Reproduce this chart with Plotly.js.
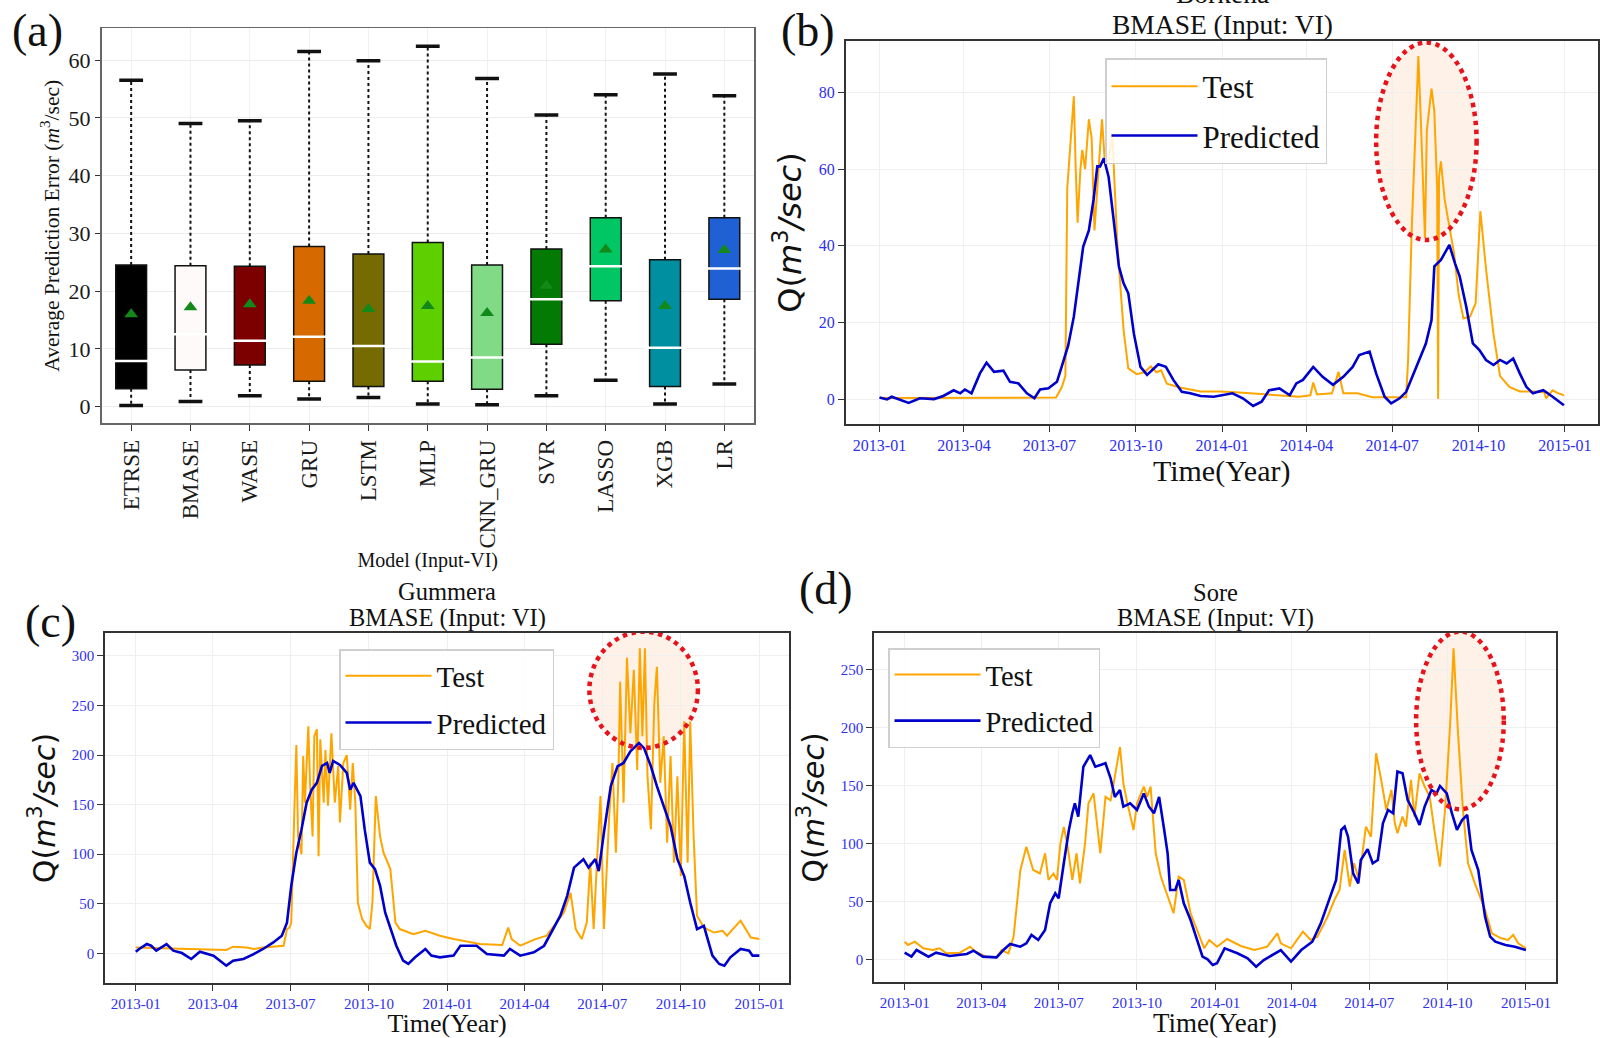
<!DOCTYPE html>
<html>
<head>
<meta charset="utf-8">
<script src="https://cdn.plot.ly/plotly-3.0.1.min.js"></script>
<style>html,body{margin:0;padding:0;background:#fff}#chart{width:1600px;height:1038px}</style>
</head>
<body>
<div id="chart"></div>
<script>
// ---------- Panel (a): box-plot statistics ----------
const models = ['ETRSE','BMASE','WASE','GRU','LSTM','MLP','CNN_GRU','SVR','LASSO','XGB','LR'];
const boxColors = ['#000000','#fffafa','#7d0000','#d66a00','#766b00','#5ecf00','#80da86','#037a03','#00c763','#008fa0','#2060d5'];
const upperWhisker = [56.5,49.0,49.5,61.5,59.9,62.4,56.8,50.5,54.0,57.6,53.8];
const q3Vals       = [24.5,24.4,24.3,27.7,26.4,28.4,24.5,27.3,32.7,25.4,32.7];
const medianVals   = [7.9,12.5,11.4,12.1,10.5,7.8,8.5,18.6,24.3,10.2,23.9];
const q1Vals       = [3.1,6.35,7.2,4.4,3.46,4.4,3.0,10.8,18.3,3.46,18.6];
const lowerWhisker = [0.2,0.87,1.85,1.3,1.56,0.46,0.3,1.85,4.56,0.46,3.9];
const meanVals     = [16.0,17.2,17.7,18.3,16.9,17.4,16.2,20.9,27.2,17.4,27.1];

// ---------- Panel (b): Borkena ----------
const bTestDates = ['2013-01-01','2013-03-01','2013-05-01','2013-07-08','2013-07-14','2013-07-18','2013-07-20','2013-07-23','2013-07-27','2013-07-29','2013-07-31','2013-08-03','2013-08-05','2013-08-08','2013-08-12','2013-08-15','2013-08-18','2013-08-21','2013-08-26','2013-08-29','2013-09-02','2013-09-06','2013-09-08','2013-09-11','2013-09-15','2013-09-18','2013-09-23','2013-10-02','2013-10-10','2013-10-17','2013-10-23','2013-10-28','2013-11-03','2013-11-17','2013-12-09','2013-12-30','2014-01-15','2014-02-20','2014-03-24','2014-04-05','2014-04-08','2014-04-12','2014-04-28','2014-05-05','2014-05-10','2014-05-25','2014-06-10','2014-07-16','2014-07-18','2014-07-22','2014-07-29','2014-08-01','2014-08-05','2014-08-07','2014-08-12','2014-08-15','2014-08-18','2014-08-19','2014-08-20','2014-08-22','2014-08-26','2014-08-31','2014-09-05','2014-09-10','2014-09-15','2014-09-22','2014-09-28','2014-10-03','2014-10-09','2014-10-17','2014-10-24','2014-11-03','2014-11-14','2014-11-28','2014-12-10','2014-12-12','2014-12-19','2014-12-24','2014-12-31'];
const bTest = [0.3,0.3,0.4,0.4,3,6,55,65,79,60,46,60,65,60,73,68,44,55,73,62,62,69,58,42,28,18,8,6.5,7,8.5,7,7.5,4,3,2,2,1.8,1.2,0.6,1,4.3,1.2,1.5,7.1,1.5,1.5,0.5,0.5,10,45,89.5,70,42,70,81,75,55,0,58,62,52,45,38,27,21,21.5,25,49,34,17,6,3.2,2,2,1.8,0.2,2.3,1.6,1];
const bPredDates = ['2013-01-01','2013-01-09','2013-01-14','2013-01-19','2013-02-01','2013-02-13','2013-02-28','2013-03-10','2013-03-21','2013-03-28','2013-04-02','2013-04-09','2013-04-18','2013-04-25','2013-05-03','2013-05-13','2013-05-20','2013-05-29','2013-06-07','2013-06-15','2013-06-21','2013-06-30','2013-07-09','2013-07-14','2013-07-21','2013-07-27','2013-08-01','2013-08-06','2013-08-12','2013-08-17','2013-08-21','2013-08-24','2013-08-28','2013-09-02','2013-09-07','2013-09-13','2013-09-18','2013-09-23','2013-09-29','2013-10-06','2013-10-13','2013-10-20','2013-10-25','2013-11-02','2013-11-10','2013-11-19','2013-11-28','2013-12-09','2013-12-23','2014-01-12','2014-01-23','2014-02-03','2014-02-12','2014-02-20','2014-03-03','2014-03-14','2014-03-21','2014-03-28','2014-04-08','2014-04-18','2014-04-29','2014-05-10','2014-05-20','2014-05-27','2014-06-07','2014-06-14','2014-06-23','2014-06-30','2014-07-09','2014-07-16','2014-07-27','2014-08-06','2014-08-12','2014-08-15','2014-08-22','2014-08-28','2014-08-31','2014-09-06','2014-09-11','2014-09-18','2014-09-25','2014-10-02','2014-10-09','2014-10-17','2014-10-24','2014-10-31','2014-11-07','2014-11-14','2014-11-21','2014-11-28','2014-12-09','2014-12-19','2014-12-31'];
const bPred = [0.4,-0.1,0.6,0.2,-1,0.2,0,0.8,2.3,1.5,2.5,1.5,6.7,9.5,7.1,7.4,4.5,4.1,1.5,0.2,2.5,2.8,4.5,8.4,14,21.5,30.2,39.8,44,52,60.7,60.7,62.8,58,47.6,34.6,30.2,27.6,17,8.4,6.3,8,9.1,8.4,5,1.9,1.5,0.8,0.6,1.5,0.2,-1.8,-0.7,2.3,2.8,1.0,4.1,5,8.4,5.8,3.7,5.8,8.4,11.5,12.4,6.7,0.6,-1.1,0.2,1.9,8.4,14.5,20.6,34.6,36.3,38.9,40.2,35.4,32,24.1,14.5,12.8,10.2,8.9,10.2,9.3,10.6,6.7,3.2,1.5,2.3,0.6,-1.6];

// ---------- Panel (c): Gummera ----------
const cTestDates = ['2013-01-01','2013-03-17','2013-04-17','2013-04-25','2013-05-11','2013-05-19','2013-05-30','2013-06-23','2013-06-27','2013-06-30','2013-07-02','2013-07-06','2013-07-08','2013-07-10','2013-07-14','2013-07-16','2013-07-18','2013-07-22','2013-07-24','2013-07-27','2013-07-29','2013-08-01','2013-08-03','2013-08-05','2013-08-09','2013-08-11','2013-08-14','2013-08-18','2013-08-22','2013-08-26','2013-08-28','2013-09-01','2013-09-05','2013-09-09','2013-09-12','2013-09-15','2013-09-18','2013-09-23','2013-09-28','2013-10-02','2013-10-05','2013-10-09','2013-10-14','2013-10-18','2013-10-26','2013-11-01','2013-11-06','2013-11-22','2013-12-06','2013-12-23','2014-01-08','2014-02-08','2014-03-06','2014-03-13','2014-03-17','2014-03-27','2014-04-14','2014-04-27','2014-05-09','2014-05-17','2014-05-25','2014-05-31','2014-06-07','2014-06-13','2014-06-17','2014-06-21','2014-06-25','2014-06-29','2014-07-03','2014-07-09','2014-07-13','2014-07-17','2014-07-20','2014-07-22','2014-07-26','2014-07-30','2014-08-03','2014-08-07','2014-08-11','2014-08-14','2014-08-17','2014-08-20','2014-08-23','2014-08-27','2014-08-31','2014-09-03','2014-09-07','2014-09-11','2014-09-15','2014-09-19','2014-09-23','2014-09-27','2014-10-01','2014-10-05','2014-10-09','2014-10-12','2014-10-16','2014-10-20','2014-10-28','2014-11-09','2014-11-19','2014-11-24','2014-12-10','2014-12-16','2014-12-22','2015-01-01'];
const cTest = [6,4.4,3.4,6.7,6,4.4,6,7.7,24.5,26,31,155,210,118,100,199,152,229,172,118,219,226,98,216,152,205,149,222,152,189,132,192,200,145,192,152,51,34.5,27.8,24.5,51,158.6,118,101.6,85,31,24.5,19.4,22.8,17.8,14.4,9.4,8.4,26,14.4,7.7,14.4,17.8,31,41,61,24.5,14.4,31,91.5,24.5,95,158.6,24.5,135,192,101.6,178.7,274,152,298,222,286,185,307.7,219,307.7,178.7,125,252,289,172,219,111.6,199,91.5,178.7,78,234,91.5,234,118,38,26,21,22.8,17.8,33,24.5,16,14.4];
const cPredDates = ['2013-01-01','2013-01-05','2013-01-14','2013-01-19','2013-01-25','2013-02-06','2013-02-14','2013-02-24','2013-03-07','2013-03-17','2013-04-02','2013-04-17','2013-04-25','2013-05-07','2013-05-19','2013-05-30','2013-06-11','2013-06-21','2013-06-27','2013-07-02','2013-07-08','2013-07-14','2013-07-20','2013-07-26','2013-08-01','2013-08-07','2013-08-13','2013-08-16','2013-08-20','2013-08-28','2013-09-05','2013-09-09','2013-09-13','2013-09-21','2013-09-26','2013-10-02','2013-10-08','2013-10-14','2013-10-20','2013-10-26','2013-11-02','2013-11-10','2013-11-16','2013-11-24','2013-12-06','2013-12-13','2013-12-23','2014-01-08','2014-01-16','2014-02-04','2014-02-16','2014-03-08','2014-03-15','2014-03-27','2014-04-12','2014-04-24','2014-05-03','2014-05-13','2014-05-21','2014-05-29','2014-06-09','2014-06-15','2014-06-23','2014-06-27','2014-07-03','2014-07-11','2014-07-19','2014-07-26','2014-08-03','2014-08-13','2014-08-19','2014-08-27','2014-09-03','2014-09-11','2014-09-19','2014-09-27','2014-10-05','2014-10-12','2014-10-20','2014-10-28','2014-11-07','2014-11-15','2014-11-21','2014-11-28','2014-12-10','2014-12-20','2014-12-24','2015-01-01'];
const cPred = [1.7,4.4,9.4,7.7,2.7,9.4,2.7,0.3,-5.7,1.7,-2.3,-12.4,-7.4,-5.7,-0.7,4.4,11,17.8,31,68,101.6,125,152,165,172,189,192,182,194,190,182,165,172,158.6,125,91.5,85,68,41,24.5,7.7,-7.4,-10.7,-4,4.4,-2.3,-4,-2.3,7.7,7.7,-0.7,-2.3,4.4,-2.3,1,7.7,22.8,38,58,86.5,95,86.5,95,83,121.7,168.6,188.7,192,203.8,212,207,188.7,168.6,148.5,128.4,95,78,51.3,24.5,27.8,-2.3,-10.7,-12.4,-4,4.4,2.7,-2.3,-2.3];

// ---------- Panel (d): Sore ----------
const dTestDates = ['2013-01-01','2013-01-05','2013-01-13','2013-01-23','2013-02-03','2013-02-11','2013-02-19','2013-03-07','2013-03-19','2013-03-25','2013-04-07','2013-04-19','2013-04-25','2013-05-03','2013-05-09','2013-05-17','2013-05-24','2013-06-01','2013-06-09','2013-06-15','2013-06-19','2013-06-25','2013-06-29','2013-07-03','2013-07-07','2013-07-11','2013-07-17','2013-07-22','2013-07-26','2013-08-01','2013-08-05','2013-08-11','2013-08-15','2013-08-19','2013-08-25','2013-08-31','2013-09-05','2013-09-11','2013-09-15','2013-09-19','2013-09-27','2013-10-01','2013-10-09','2013-10-13','2013-10-17','2013-10-23','2013-10-29','2013-11-06','2013-11-13','2013-11-19','2013-11-25','2013-12-03','2013-12-11','2013-12-19','2013-12-25','2014-01-03','2014-01-15','2014-01-31','2014-02-16','2014-03-03','2014-03-15','2014-03-19','2014-03-31','2014-04-14','2014-04-23','2014-05-01','2014-05-13','2014-05-21','2014-05-27','2014-06-02','2014-06-08','2014-06-13','2014-06-19','2014-06-27','2014-07-03','2014-07-09','2014-07-15','2014-07-21','2014-07-27','2014-07-31','2014-08-03','2014-08-09','2014-08-13','2014-08-19','2014-08-23','2014-08-29','2014-09-04','2014-09-10','2014-09-16','2014-09-22','2014-09-28','2014-10-04','2014-10-08','2014-10-13','2014-10-19','2014-10-25','2014-11-02','2014-11-08','2014-11-14','2014-11-22','2014-12-03','2014-12-11','2014-12-17','2014-12-23','2015-01-01'];
const dTest = [15.2,12.4,15.2,9.5,8,9.5,5.2,5.7,10.9,6.6,2.3,1.7,8,5.2,19.5,77,97,77,74,91.4,68.4,74,68.4,100,114,100,68.4,91.4,65.5,100,134.5,143,117,91.4,140,137,157.5,183,151.7,137,111.5,134.5,148.9,140,148.9,91.4,71.3,54,39.7,71.3,68.4,39.7,25.3,9.5,16.7,10.9,17.5,11.5,8,10.9,22.4,13.8,9.5,23.9,16.7,19.5,36.8,51.1,59.8,94.3,62.6,82.8,68.4,114.4,105.7,177.6,154.6,128.7,146,117.2,108.6,123,114.4,154.6,123,160.3,148.9,140,108.6,80,128.7,203.4,268,197.7,128.7,82.8,65.5,54,42.5,22.4,18.1,16.7,21,13.8,9.5];
const dPredDates = ['2013-01-01','2013-01-09','2013-01-15','2013-01-29','2013-02-07','2013-02-23','2013-03-15','2013-03-23','2013-04-03','2013-04-19','2013-04-27','2013-05-05','2013-05-17','2013-05-24','2013-05-30','2013-06-07','2013-06-15','2013-06-21','2013-06-27','2013-07-01','2013-07-07','2013-07-13','2013-07-17','2013-07-20','2013-07-24','2013-07-30','2013-08-07','2013-08-13','2013-08-19','2013-08-25','2013-08-31','2013-09-05','2013-09-11','2013-09-15','2013-09-23','2013-10-01','2013-10-09','2013-10-15','2013-10-21','2013-10-27','2013-11-02','2013-11-06','2013-11-09','2013-11-15','2013-11-19','2013-11-25','2013-12-03','2013-12-11','2013-12-17','2013-12-23','2013-12-29','2014-01-03','2014-01-12','2014-01-27','2014-02-08','2014-02-18','2014-02-27','2014-03-19','2014-03-31','2014-04-12','2014-04-25','2014-05-05','2014-05-13','2014-05-23','2014-05-29','2014-06-02','2014-06-06','2014-06-12','2014-06-18','2014-06-21','2014-06-29','2014-07-05','2014-07-11','2014-07-17','2014-07-23','2014-07-29','2014-08-03','2014-08-09','2014-08-15','2014-08-23','2014-08-29','2014-09-04','2014-09-12','2014-09-18','2014-09-22','2014-09-30','2014-10-06','2014-10-12','2014-10-18','2014-10-24','2014-10-29','2014-11-06','2014-11-14','2014-11-20','2014-11-26','2014-12-08','2014-12-19','2015-01-01'];
const dPred = [5.7,2.3,8,2.3,5.7,2.9,4.6,7.5,2.3,1.7,8,13.2,10.9,13.8,21,16.7,25.3,48.3,56.9,52.6,82.8,111.5,125.9,134.5,123,166,176,166,167.5,169,156,140,146,131.6,134.5,128.7,143,131.6,125.9,140,111.5,91.4,59.8,59.8,68.4,48.3,33.9,16.7,2.3,0,-4.9,-3.4,9.5,5.2,0.9,-6.3,-0.6,8,-2,8,15.2,31,48.3,68.4,111.5,114.4,105.7,74,65.5,85.6,95,82.8,85.6,117.2,128.7,125.9,161.8,160.3,137.4,125.9,115.8,131.6,146,143,149.4,143,125.9,111.5,120,124.4,94.3,77,36.8,19.5,15.2,12.4,10.9,8];

// ---------- styling ----------
const SERIF = 'Liberation Serif, Times New Roman, serif';
const SANS = 'DejaVu Sans, sans-serif';
const TICKBLUE = '#2f2ff0';
const TEST_COLOR = '#ffa500';
const PRED_COLOR = '#0000cd';
const W = 1600, H = 1038;
const px = v => v / W;
const py = v => 1 - v / H;

// ---------- traces ----------
const traces = [];

// whiskers (dotted)
const wx = [], wy = [];
models.forEach((m, i) => {
  wx.push(m, m, null, m, m, null);
  wy.push(q3Vals[i], upperWhisker[i], null, q1Vals[i], lowerWhisker[i], null);
});
traces.push({type:'scatter', mode:'lines', x:wx, y:wy, xaxis:'x', yaxis:'y',
  line:{color:'#111', width:2, dash:'dot'}, showlegend:false, hoverinfo:'skip'});

// boxes as bars from q1 to q3
traces.push({type:'bar', x:models, base:q1Vals, y:q3Vals.map((v,i)=>v-q1Vals[i]),
  width:0.52, xaxis:'x', yaxis:'y', showlegend:false,
  marker:{color:boxColors, line:{color:'#111', width:1.5}}});

// caps
traces.push({type:'scatter', mode:'markers', x:models.concat(models), y:upperWhisker.concat(lowerWhisker),
  xaxis:'x', yaxis:'y', showlegend:false,
  marker:{symbol:'line-ew', size:17, line:{color:'#111', width:3.5}}});

// medians
traces.push({type:'scatter', mode:'markers', x:models, y:medianVals, xaxis:'x', yaxis:'y', showlegend:false,
  marker:{symbol:'line-ew', size:30, line:{color:'#ffffff', width:2.5}}});

// means
traces.push({type:'scatter', mode:'markers', x:models, y:meanVals, xaxis:'x', yaxis:'y', showlegend:false,
  marker:{symbol:'triangle-up', size:12, color:'#13891a'}});

function seriesPair(tDates, tVals, pDates, pVals, xa, ya, legendId, tag) {
  traces.push({type:'scatter', mode:'lines', x:tDates, y:tVals, name:'Test', xaxis:xa, yaxis:ya,
    legend:legendId, legendgroup:tag+'t', line:{color:TEST_COLOR, width:2}});
  traces.push({type:'scatter', mode:'lines', x:pDates, y:pVals, name:'Predicted', xaxis:xa, yaxis:ya,
    legend:legendId, legendgroup:tag+'p', line:{color:PRED_COLOR, width:2.6}});
}
seriesPair(bTestDates, bTest, bPredDates, bPred, 'x2', 'y2', 'legend', 'b');
seriesPair(cTestDates, cTest, cPredDates, cPred, 'x3', 'y3', 'legend2', 'c');
seriesPair(dTestDates, dTest, dPredDates, dPred, 'x4', 'y4', 'legend3', 'd');

// ---------- axes ----------
const dateRange = ['2012-11-26', '2015-02-05'];
function timeX(domain, anchor, tickSize, titleSize, standoff) {
  return {domain, anchor, type:'date', range:dateRange, dtick:'M3', tick0:'2013-01-01', tickformat:'%Y-%m',
    tickfont:{family:SERIF, size:tickSize, color:TICKBLUE}, ticks:'outside', ticklen:6, tickcolor:'#333',
    showgrid:true, gridcolor:'#efefef', showline:true, mirror:true, linecolor:'#333', linewidth:1.8,
    zeroline:false, title:{text:'Time(Year)', font:{family:SERIF, size:titleSize, color:'#111'}, standoff}};
}
function flowY(domain, anchor, range, dtick, tickSize, titleSize) {
  return {domain, anchor, range, dtick, tick0:0,
    tickfont:{family:SERIF, size:tickSize, color:TICKBLUE}, ticks:'outside', ticklen:6, tickcolor:'#333',
    showgrid:true, gridcolor:'#efefef', showline:true, mirror:true, linecolor:'#333', linewidth:1.8,
    zeroline:false,
    title:{text:'Q(<i>m</i><sup>3</sup><i>/sec</i>)', font:{family:SANS, size:titleSize, color:'#111'}, standoff:7}};
}

function legendAt(left, top, size) {
  return {x:px(left), y:py(top), xanchor:'left', yanchor:'top', xref:'paper', yref:'paper',
    font:{family:SERIF, size, color:'#111'}, bgcolor:'rgba(255,255,255,0.85)',
    bordercolor:'#cfcfcf', borderwidth:1.5, itemwidth:86, traceorder:'grouped', tracegroupgap:6};
}

function ann(text, x, y, size, family) {
  return {text, x:px(x), y:py(y), xref:'paper', yref:'paper', xanchor:'center', yanchor:'middle',
    showarrow:false, font:{family:family||SERIF, size, color:'#111'}};
}

function ellipse(xa, ya, x0, x1, y0, y1) {
  return [
    {type:'circle', xref:xa, yref:ya, x0, x1, y0, y1, layer:'below',
      fillcolor:'rgba(248,190,150,0.22)', line:{width:0}},
    {type:'circle', xref:xa, yref:ya, x0, x1, y0, y1, layer:'above',
      fillcolor:'rgba(0,0,0,0)', line:{color:'#e8121b', width:4.5, dash:'dot'}}
  ];
}

const layout = {
  width:W, height:H, margin:{l:0, r:0, t:0, b:0},
  paper_bgcolor:'#ffffff', plot_bgcolor:'#ffffff',
  font:{family:SERIF, color:'#111'},
  bargap:0,
  xaxis:{domain:[px(101.5), px(754)], anchor:'y', type:'category', categoryorder:'array', categoryarray:models,
    range:[-0.5, 10.5], tickangle:-90, tickfont:{family:SERIF, size:23, color:'#1a1a1a'},
    ticks:'outside', ticklen:6, tickcolor:'#333', showgrid:true, gridcolor:'#f0f0f0',
    showline:true, mirror:true, linecolor:'#666', linewidth:1.5, zeroline:false,
    title:{text:'Model (Input-VI)', font:{family:SERIF, size:20, color:'#111'}, standoff:2}},
  yaxis:{domain:[py(423.3), py(28.3)], anchor:'x', range:[-2.9, 65.5], dtick:10, tick0:0,
    tickfont:{family:SERIF, size:22, color:'#1a1a1a'}, ticks:'outside', ticklen:5, tickcolor:'#333',
    showgrid:true, gridcolor:'#ececec', showline:true, mirror:true, linecolor:'#666', linewidth:1.5, zeroline:false,
    title:{text:'Average Prediction Error (<i>m</i><sup>3</sup>/sec)', font:{family:SERIF, size:21.5, color:'#111'}, standoff:3}},
  xaxis2:timeX([px(845.7), px(1597.7)], 'y2', 16, 30, 2),
  yaxis2:flowY([py(424), py(41)], 'x2', [-6.5, 93.4], 20, 16, 32),
  xaxis3:timeX([px(105), px(789.3)], 'y3', 15, 26, 5),
  yaxis3:flowY([py(983.3), py(632.7)], 'x3', [-30.2, 323.4], 50, 15, 30),
  xaxis4:timeX([px(874), px(1555.7)], 'y4', 15, 27, 5),
  yaxis4:flowY([py(982.3), py(632.7)], 'x4', [-19.8, 281.5], 50, 15, 30),
  legend:legendAt(1105, 58, 31),
  legend2:legendAt(339, 649, 29),
  legend3:legendAt(888, 648, 28.5),
  shapes:[].concat(
    ellipse('x2','y2','2014-06-14','2014-09-29',41.5,93.0),
    ellipse('x3','y3','2014-06-16','2014-10-21',207.2,324.4),
    ellipse('x4','y4','2014-08-25','2014-12-06',129.3,282.4)
  ),
  annotations:[
    ann('(a)', 37, 30, 46),
    ann('(b)', 808, 30, 46),
    ann('(c)', 50, 621, 46),
    ann('(d)', 826, 588, 46),
    ann('Borkena', 1222, -7, 27.5),
    ann('BMASE (Input: VI)', 1222, 25, 27.5),
    ann('Gummera', 447, 591, 24.5),
    ann('BMASE (Input: VI)', 447, 618, 24.5),
    ann('Sore', 1215, 592, 24.5),
    ann('BMASE (Input: VI)', 1215, 618, 24.5)
  ]
};

Plotly.newPlot('chart', traces, layout, {displayModeBar:false, staticPlot:true});
</script>
</body>
</html>
